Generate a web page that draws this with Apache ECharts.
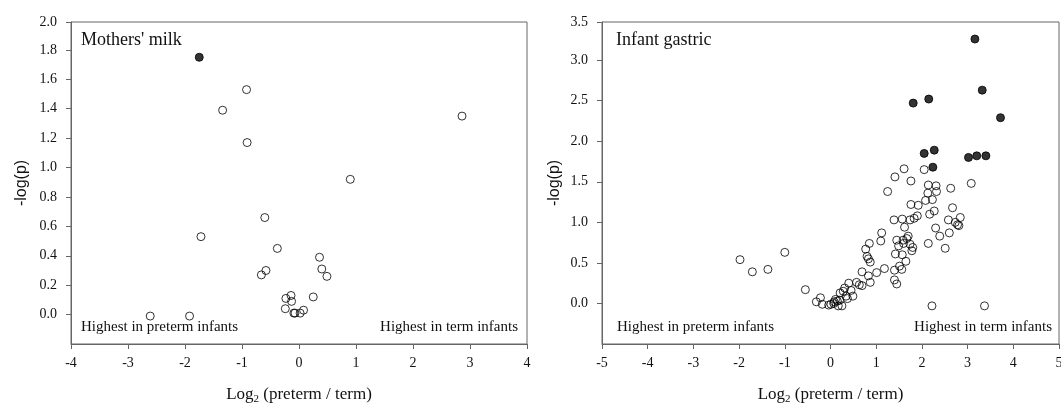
<!DOCTYPE html>
<html>
<head>
<meta charset="utf-8">
<script src="https://cdn.jsdelivr.net/npm/echarts@6/dist/echarts.min.js"></script>
<style>
html,body{margin:0;padding:0;background:#fff;}
#chart{width:1061px;height:405px;}
</style>
</head>
<body>
<div id="chart"></div>
<script>
// ---- Data ----
const panelTitles = ["Mothers' milk", "Infant gastric"];
const leftLabel = "Highest in preterm infants";
const rightLabel = "Highest in term infants";
const xAxisTitle = "Log{sub|2} (preterm / term)";
const yAxisTitle = "-log(p)";

// Mothers' milk: [log2 ratio, -log(p)]
const milkSignificant = [[-1.75, 1.76]];
const milkOther = [
  [-0.92, 1.54], [-1.34, 1.40], [-0.91, 1.18], [2.86, 1.36], [0.90, 0.93],
  [-0.60, 0.67], [-1.72, 0.54], [-0.38, 0.46], [0.36, 0.40], [0.40, 0.32],
  [0.49, 0.27], [-0.58, 0.31], [-0.66, 0.28], [-0.23, 0.12], [-0.14, 0.14],
  [-0.13, 0.10], [0.25, 0.13], [-0.24, 0.05], [-0.09, 0.02], [-0.07, 0.02],
  [0.02, 0.02], [0.08, 0.04], [-2.61, 0.00], [-1.92, 0.00]
];

// Infant gastric: [log2 ratio, -log(p)]
const gastricSignificant = [
  [3.16, 3.29], [3.32, 2.66], [1.81, 2.50], [2.15, 2.55], [3.72, 2.32],
  [2.05, 1.88], [2.27, 1.92], [2.24, 1.71], [3.02, 1.83], [3.20, 1.85], [3.40, 1.85]
];
const gastricOther = [
  [-1.98, 0.57], [-1.71, 0.42], [-1.37, 0.45], [-1.00, 0.66], [-0.55, 0.20],
  [-0.31, 0.05], [-0.22, 0.10], [-0.18, 0.02], [-0.04, 0.01], [0.01, 0.02],
  [0.07, 0.03], [0.08, 0.05], [0.11, 0.08], [0.15, 0.06], [0.17, 0.00],
  [0.20, 0.07], [0.25, 0.00], [0.21, 0.16], [0.28, 0.18], [0.31, 0.22],
  [0.34, 0.12], [0.37, 0.09], [0.40, 0.28], [0.45, 0.19], [0.49, 0.12],
  [0.57, 0.29], [0.63, 0.26], [0.69, 0.25], [0.69, 0.42], [0.83, 0.37],
  [0.87, 0.29], [0.77, 0.70], [0.85, 0.77], [0.80, 0.61], [0.83, 0.58],
  [0.87, 0.54], [1.01, 0.41], [1.18, 0.46], [1.10, 0.80], [1.12, 0.90],
  [1.25, 1.41], [1.41, 1.59], [1.39, 1.06], [1.40, 0.44], [1.40, 0.32],
  [1.45, 0.27], [1.42, 0.64], [1.45, 0.81], [1.49, 0.74], [1.51, 0.49],
  [1.56, 0.45], [1.57, 0.63], [1.57, 1.07], [1.59, 0.81], [1.60, 0.77],
  [1.62, 0.97], [1.65, 0.55], [1.67, 0.83], [1.70, 0.86], [1.61, 1.69],
  [1.74, 0.76], [1.78, 0.68], [1.80, 0.72], [1.74, 1.06], [1.76, 1.25],
  [1.76, 1.54], [1.83, 1.08], [1.90, 1.11], [1.92, 1.24], [2.05, 1.68],
  [2.08, 1.30], [2.13, 1.39], [2.14, 1.49], [2.17, 1.13], [2.23, 1.31],
  [2.27, 1.17], [2.31, 1.48], [2.32, 1.41], [2.14, 0.77], [2.30, 0.96],
  [2.39, 0.86], [2.51, 0.71], [2.60, 0.90], [2.58, 1.06], [2.63, 1.45],
  [2.67, 1.21], [2.73, 1.03], [2.78, 1.00], [2.81, 0.99], [2.84, 1.09],
  [3.08, 1.51], [2.22, 0.00], [3.37, 0.00]
];

// ---- Chart ----
const SERIF = "'Liberation Serif', 'Times New Roman', serif";
const SANS = "'Liberation Sans', Arial, sans-serif";
const AXIS_COLOR = '#666';
const TEXT_COLOR = '#111';

function xAxisCfg(gridIndex, min, max) {
  return {
    type: 'value', gridIndex, min, max, interval: 1,
    splitLine: { show: false },
    axisLine: { show: true, onZero: false, lineStyle: { color: AXIS_COLOR, width: 1 } },
    axisTick: { show: true, length: 5, lineStyle: { color: AXIS_COLOR } },
    axisLabel: { color: TEXT_COLOR, fontFamily: SERIF, fontSize: 14, margin: 12 },
    name: xAxisTitle, nameLocation: 'middle', nameGap: 41,
    nameTextStyle: {
      color: TEXT_COLOR, fontFamily: SERIF, fontSize: 17,
      rich: { sub: { fontFamily: SERIF, fontSize: 11, color: TEXT_COLOR, padding: [9, 0, 0, 0] } }
    }
  };
}
function yAxisCfg(gridIndex, min, max, interval, nameGap) {
  return {
    type: 'value', gridIndex, min, max, interval,
    splitLine: { show: false },
    axisLine: { show: true, onZero: false, lineStyle: { color: AXIS_COLOR, width: 1 } },
    axisTick: { show: true, length: 5, lineStyle: { color: AXIS_COLOR } },
    axisLabel: {
      color: TEXT_COLOR, fontFamily: SERIF, fontSize: 14, margin: 14, showMinLabel: false,
      formatter: v => v.toFixed(1)
    },
    name: yAxisTitle, nameLocation: 'middle', nameGap, nameRotate: 90,
    nameTextStyle: { color: TEXT_COLOR, fontFamily: SANS, fontSize: 16 }
  };
}
function scatter(xi, data, filled) {
  return {
    type: 'scatter', xAxisIndex: xi, yAxisIndex: xi, data,
    symbol: 'circle', symbolSize: 8, silent: true, animation: false,
    itemStyle: filled
      ? { color: '#000', borderColor: '#000', borderWidth: 1 }
      : { color: 'rgba(255,255,255,0)', borderColor: '#000', borderWidth: 1 }
  };
}
function txt(left, top, text, size) {
  return {
    type: 'text', left, top,
    style: { text, fontFamily: SERIF, fontSize: size, fill: TEXT_COLOR }
  };
}
function txtR(right, top, text, size) {
  return {
    type: 'text', right, top,
    style: { text, fontFamily: SERIF, fontSize: size, fill: TEXT_COLOR }
  };
}

const chart = echarts.init(document.getElementById('chart'), null, { renderer: 'canvas' });
chart.setOption({
  backgroundColor: '#fff',
  animation: false,
  grid: [
    { left: 71, top: 22, width: 456, height: 322, outerBoundsMode: 'none', containLabel: false,
      show: true, borderColor: AXIS_COLOR, borderWidth: 1, backgroundColor: 'transparent' },
    { left: 602, top: 22, width: 457, height: 322, outerBoundsMode: 'none', containLabel: false,
      show: true, borderColor: AXIS_COLOR, borderWidth: 1, backgroundColor: 'transparent' }
  ],
  xAxis: [xAxisCfg(0, -4, 4), xAxisCfg(1, -5, 5)],
  yAxis: [yAxisCfg(0, -0.19, 2.0, 0.2, 41), yAxisCfg(1, -0.47, 3.5, 0.5, 39)],
  series: [
    scatter(0, milkOther, false),
    scatter(0, milkSignificant, true),
    scatter(1, gastricOther, false),
    scatter(1, gastricSignificant, true)
  ],
  graphic: [
    txt(81, 31, panelTitles[0], 18),
    txt(81, 320, leftLabel, 15),
    txtR(1061 - 518, 320, rightLabel, 15),
    txt(616, 31, panelTitles[1], 18),
    txt(617, 320, leftLabel, 15),
    txtR(1061 - 1052, 320, rightLabel, 15)
  ]
});
</script>
</body>
</html>
